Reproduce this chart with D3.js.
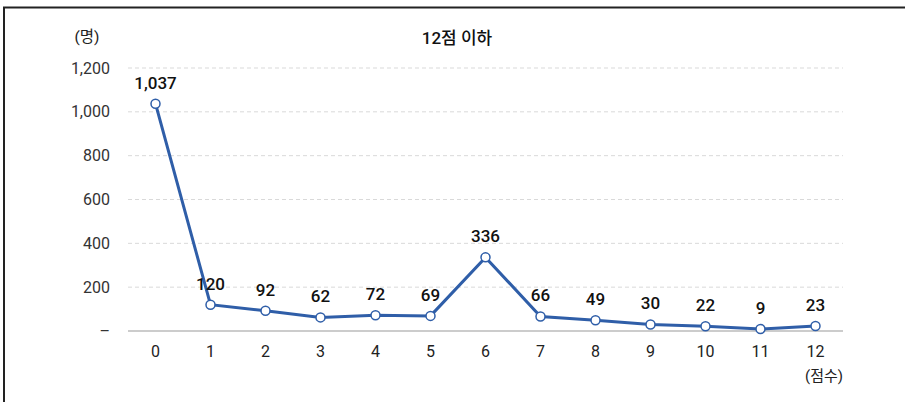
<!DOCTYPE html>
<html>
<head>
<meta charset="utf-8">
<script src="https://cdn.jsdelivr.net/npm/d3@7"></script>
<style>
  html, body { margin: 0; padding: 0; background: #fff; }
  svg { display: block; font-family: Roboto, "Noto Sans CJK KR", sans-serif; }
</style>
</head>
<body>
<div id="chart"></div>
<script>
const categories = ["0", "1", "2", "3", "4", "5", "6", "7", "8", "9", "10", "11", "12"];
const values = [1037, 120, 92, 62, 72, 69, 336, 66, 49, 30, 22, 9, 23];
const yTicks = [0, 200, 400, 600, 800, 1000, 1200];

const width = 905;
const height = 402;

const svg = d3
  .select("#chart")
  .append("svg")
  .attr("width", width)
  .attr("height", height);

// frame: top and left edges only
svg.append("path")
  .attr("d", `M4,${height} V7.5 H${width}`)
  .attr("fill", "none")
  .attr("stroke", "#222")
  .attr("stroke-width", 2);

const x = d3.scaleBand().domain(categories).range([128, 843]);
const y = d3.scaleLinear().domain([0, 1200]).range([331, 68]);

// grid
svg.append("g")
  .selectAll("line")
  .data(yTicks.filter((d) => d > 0))
  .join("line")
  .attr("x1", 128)
  .attr("x2", 843)
  .attr("y1", (d) => y(d))
  .attr("y2", (d) => y(d))
  .attr("stroke", "#d9d9d9")
  .attr("stroke-dasharray", "4,3");

// baseline
svg.append("line")
  .attr("x1", 128)
  .attr("x2", 843)
  .attr("y1", y(0))
  .attr("y2", y(0))
  .attr("stroke", "#999")
  .attr("stroke-width", 1.2);

// y labels
svg.append("g")
  .selectAll("text")
  .data(yTicks)
  .join("text")
  .attr("x", 110)
  .attr("y", (d) => y(d))
  .attr("dy", "0.35em")
  .attr("text-anchor", "end")
  .attr("font-size", 16)
  .attr("fill", "#333")
  .text((d) => (d === 0 ? "–" : d3.format(",")(d)));

// x labels
svg.append("g")
  .selectAll("text")
  .data(categories)
  .join("text")
  .attr("x", (d) => x(d) + x.bandwidth() / 2)
  .attr("y", 351)
  .attr("dy", "0.35em")
  .attr("text-anchor", "middle")
  .attr("font-size", 16)
  .attr("fill", "#222")
  .text((d) => d);

svg.append("text")
  .attr("x", 824)
  .attr("y", 376)
  .attr("dy", "0.35em")
  .attr("text-anchor", "middle")
  .attr("font-size", 15)
  .attr("fill", "#222")
  .text("(점수)");

svg.append("text")
  .attr("x", 87)
  .attr("y", 37)
  .attr("dy", "0.35em")
  .attr("text-anchor", "middle")
  .attr("font-size", 15.5)
  .attr("fill", "#222")
  .text("(명)");

svg.append("text")
  .attr("x", 457)
  .attr("y", 38)
  .attr("dy", "0.35em")
  .attr("text-anchor", "middle")
  .attr("font-size", 17)
  .attr("font-weight", 500)
  .attr("fill", "#111")
  .text("12점 이하");

const cx = (d, i) => x(categories[i]) + x.bandwidth() / 2;

svg.append("path")
  .datum(values)
  .attr("fill", "none")
  .attr("stroke", "#2f5ea8")
  .attr("stroke-width", 3)
  .attr("d", d3.line().x(cx).y((d) => y(d)));

svg.append("g")
  .selectAll("circle")
  .data(values)
  .join("circle")
  .attr("cx", cx)
  .attr("cy", (d) => y(d))
  .attr("r", 4.5)
  .attr("fill", "#fff")
  .attr("stroke", "#2f5ea8")
  .attr("stroke-width", 1.5);

svg.append("g")
  .selectAll("text")
  .data(values)
  .join("text")
  .attr("x", cx)
  .attr("y", (d) => y(d) - 21)
  .attr("dy", "0.35em")
  .attr("text-anchor", "middle")
  .attr("font-size", 17)
  .attr("font-weight", 500)
  .attr("fill", "#111")
  .text((d) => d3.format(",")(d));
</script>
</body>
</html>
